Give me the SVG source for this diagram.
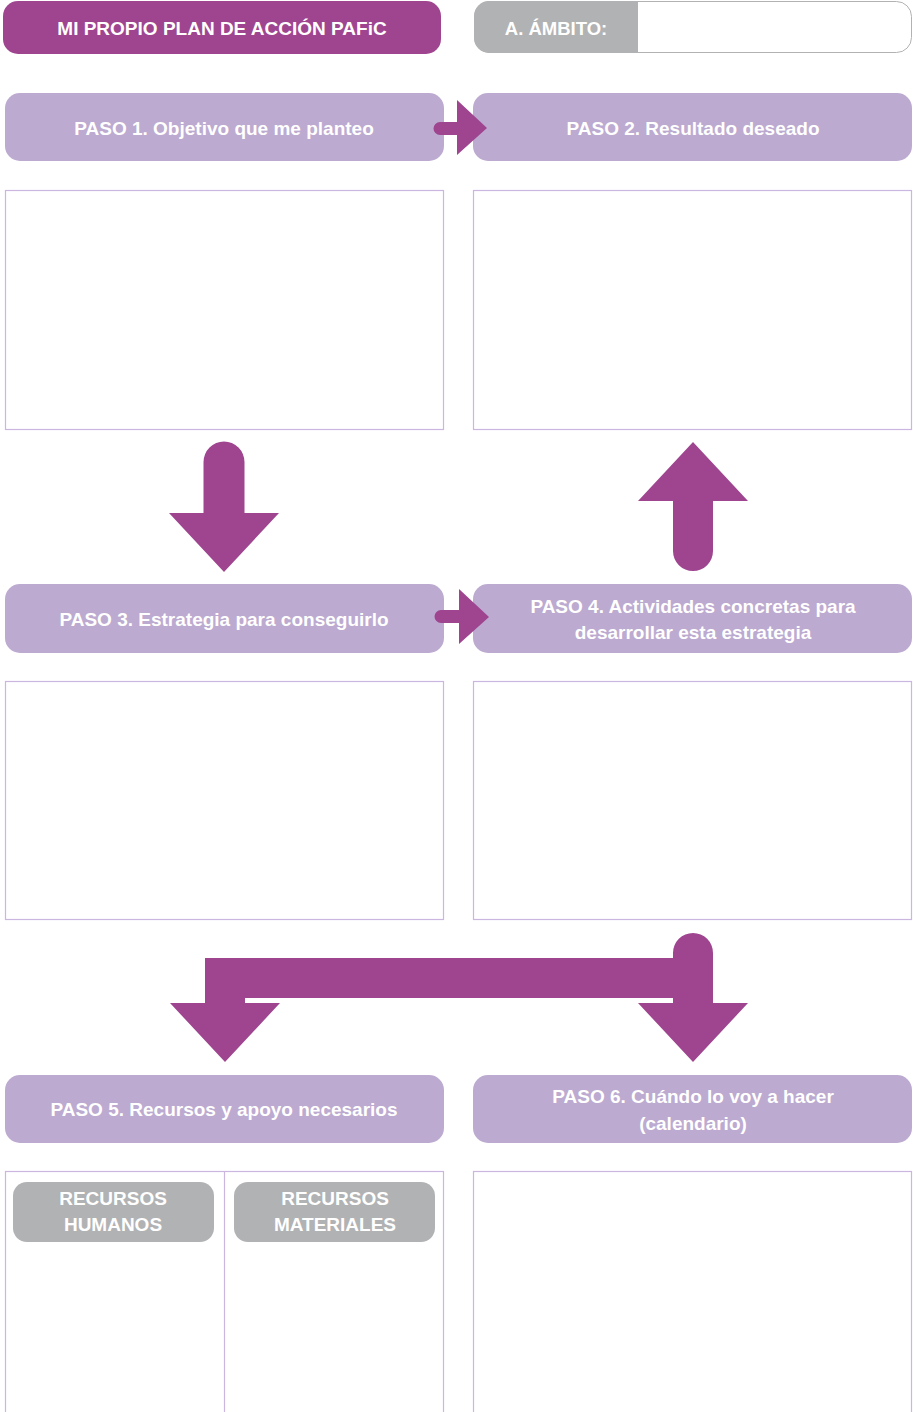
<svg xmlns="http://www.w3.org/2000/svg" width="913" height="1412" viewBox="0 0 913 1412">
<defs>
<style>
.t{font-family:"Liberation Sans",Arial,sans-serif;font-weight:bold;fill:#ffffff;text-anchor:middle;font-size:19px;}
.h{fill:#bcaad0;}
.box{fill:#ffffff;stroke:#cbb6df;stroke-width:1.2;}
.arr{fill:#9f4590;}
.g{fill:#b1b2b4;}
</style>
</defs>
<rect width="913" height="1412" fill="#ffffff"/>
<g id="title">
<rect x="3" y="1" width="438" height="53" rx="15" fill="#9f4590"/>
<text class="t" x="222" y="34.5">MI PROPIO PLAN DE ACCIÓN PAFiC</text>
</g>
<g id="ambito">
<rect x="474.5" y="1.5" width="437" height="51" rx="15" fill="#ffffff" stroke="#b1b2b4" stroke-width="1"/>
<path d="M638 1 H489 A15 15 0 0 0 474 16 V38 A15 15 0 0 0 489 53 H638 Z" class="g"/>
<text class="t" x="556" y="34.5" style="font-size:18.5px">A. ÁMBITO:</text>
</g>
<g id="paso1">
<rect x="5" y="93" width="439" height="68" rx="15" class="h"/>
<text class="t" x="224" y="134.5">PASO 1. Objetivo que me planteo</text>
</g>
<g id="paso2">
<rect x="473" y="93" width="439" height="68" rx="15" class="h"/>
<text class="t" x="693" y="134.5">PASO 2. Resultado deseado</text>
</g>
<g id="box1"><rect x="5.5" y="190.5" width="438" height="239" class="box"/></g>
<g id="box2"><rect x="473.5" y="190.5" width="438" height="239" class="box"/></g>
<g id="paso3">
<rect x="5" y="584" width="439" height="69" rx="15" class="h"/>
<text class="t" x="224" y="625.5">PASO 3. Estrategia para conseguirlo</text>
</g>
<g id="paso4">
<rect x="473" y="584" width="439" height="69" rx="15" class="h"/>
<text class="t" x="693" y="613">PASO 4. Actividades concretas para</text>
<text class="t" x="693" y="639">desarrollar esta estrategia</text>
</g>
<g id="box3"><rect x="5.5" y="681.5" width="438" height="238" class="box"/></g>
<g id="box4"><rect x="473.5" y="681.5" width="438" height="238" class="box"/></g>
<g id="paso5">
<rect x="5" y="1075" width="439" height="68" rx="15" class="h"/>
<text class="t" x="224" y="1115.5">PASO 5. Recursos y apoyo necesarios</text>
</g>
<g id="paso6">
<rect x="473" y="1075" width="439" height="68" rx="15" class="h"/>
<text class="t" x="693" y="1103">PASO 6. Cuándo lo voy a hacer</text>
<text class="t" x="693" y="1130">(calendario)</text>
</g>
<g id="box5">
<rect x="5.5" y="1171.5" width="438" height="245" class="box"/>
<line x1="224.5" y1="1172" x2="224.5" y2="1412" stroke="#cbb6df" stroke-width="1.2"/>
</g>
<g id="rhumanos">
<rect x="13" y="1182" width="201" height="60" rx="14" class="g"/>
<text class="t" x="113" y="1205">RECURSOS</text>
<text class="t" x="113" y="1231">HUMANOS</text>
</g>
<g id="rmateriales">
<rect x="234" y="1182" width="201" height="60" rx="14" class="g"/>
<text class="t" x="335" y="1205">RECURSOS</text>
<text class="t" x="335" y="1231">MATERIALES</text>
</g>
<g id="box6"><rect x="473.5" y="1171.5" width="438" height="245" class="box"/></g>
<g id="connectors">
<path class="arr" d="M440 122 H457 V100 L487 128 L457 155 V135 H440 A6.5 6.5 0 0 1 440 122 Z"/>
<path class="arr" d="M441 610 H459 V589 L489 617 L459 644 V623 H441 A6.5 6.5 0 0 1 441 610 Z"/>
<path class="arr" d="M203.5 462 A20.5 20.5 0 0 1 244.5 462 V513 H279 L224 572 L169 513 H203.5 Z"/>
<path class="arr" d="M673 551 V501 H638 L693 442 L748 501 H713 V551 A20 20 0 0 1 673 551 Z"/>
<path class="arr" d="M673 953 A20 20 0 0 1 713 953 V1003 H748 L693 1062 L638 1003 H673 V998 H245 V1003 H280 L225 1062 L170 1003 H205 V958 H673 Z"/>
</g>
</svg>
